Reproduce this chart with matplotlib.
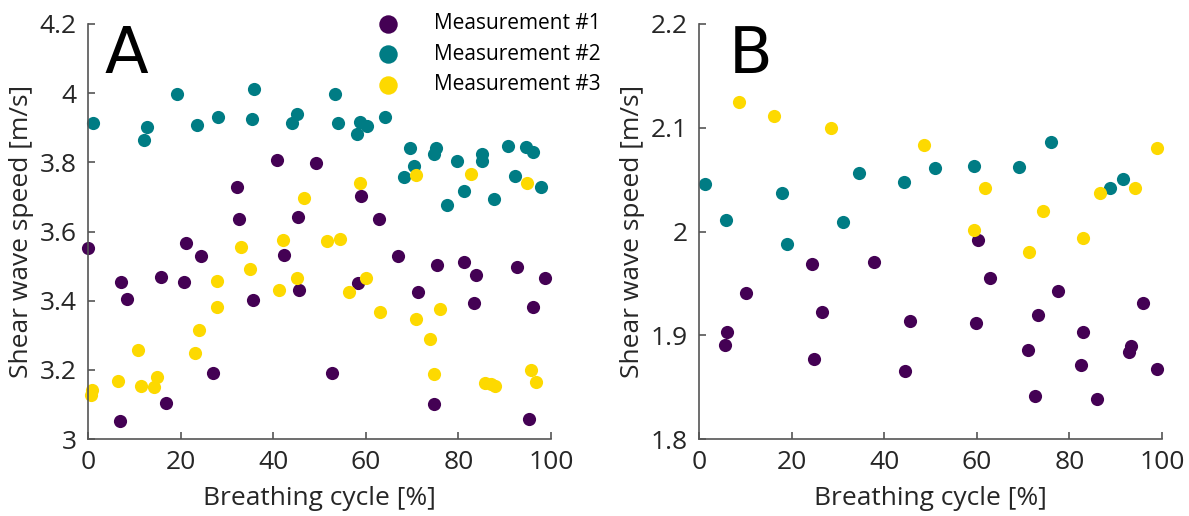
import numpy as np
import matplotlib
matplotlib.use('Agg')
import matplotlib.pyplot as plt

plt.rcParams['font.family'] = ['Open Sans', 'DejaVu Sans']

# Panel A data (breathing cycle %, shear wave speed m/s)
a1_x = [-0.1, 7.0, 7.2, 8.4, 15.8, 16.9, 20.8, 21.2, 24.4, 26.9, 32.2, 32.7, 35.7,
        40.9, 42.3, 45.4, 45.6, 49.3, 52.6, 58.4, 58.9, 62.9, 67.0, 71.2, 74.7,
        75.4, 81.3, 83.3, 83.9, 92.7, 95.2, 96.2, 98.8]
a1_y = [3.553, 3.053, 3.453, 3.404, 3.469, 3.105, 3.455, 3.566, 3.530, 3.190, 3.729,
        3.636, 3.401, 3.808, 3.533, 3.641, 3.430, 3.797, 3.192, 3.452, 3.704, 3.636,
        3.530, 3.425, 3.102, 3.502, 3.512, 3.392, 3.475, 3.497, 3.058, 3.381, 3.467]

a2_x = [1.1, 12.2, 12.8, 19.2, 23.5, 28.0, 35.4, 35.9, 44.1, 45.1, 53.3, 53.9, 58.2,
        58.7, 60.3, 64.2, 68.3, 69.6, 70.4, 74.7, 75.2, 77.6, 79.7, 81.3, 85.1, 85.1,
        87.6, 90.7, 92.2, 94.7, 96.1, 97.8]
a2_y = [3.914, 3.864, 3.903, 3.997, 3.907, 3.930, 3.925, 4.011, 3.913, 3.939, 3.997,
        3.913, 3.882, 3.916, 3.906, 3.931, 3.758, 3.842, 3.789, 3.824, 3.842, 3.676,
        3.803, 3.718, 3.824, 3.803, 3.693, 3.848, 3.761, 3.844, 3.831, 3.728]

a3_x = [0.8, 0.6, 6.5, 10.9, 11.5, 14.8, 14.3, 23.2, 24.0, 27.9, 27.9, 33.0, 35.0,
        41.2, 42.2, 45.1, 46.6, 51.7, 54.4, 56.3, 58.7, 60.0, 63.1, 70.8, 70.8, 73.9,
        74.7, 76.1, 82.7, 85.8, 87.0, 88.0, 94.8, 95.7, 96.8]
a3_y = [3.142, 3.128, 3.167, 3.257, 3.154, 3.178, 3.150, 3.249, 3.315, 3.382, 3.457,
        3.554, 3.492, 3.432, 3.575, 3.466, 3.698, 3.572, 3.578, 3.426, 3.741, 3.467,
        3.366, 3.348, 3.763, 3.288, 3.189, 3.376, 3.766, 3.162, 3.158, 3.154, 3.739,
        3.200, 3.164]

# Panel B data
b1_x = [5.6, 6.0, 10.2, 24.4, 26.5, 24.9, 37.8, 45.5, 44.4, 60.2, 62.9, 59.9, 77.5,
        73.2, 71.1, 72.6, 82.9, 82.4, 93.4, 92.9, 96.0, 99.0, 85.9]
b1_y = [1.891, 1.903, 1.941, 1.969, 1.922, 1.877, 1.971, 1.914, 1.866, 1.992, 1.955,
        1.912, 1.943, 1.920, 1.886, 1.841, 1.903, 1.871, 1.890, 1.884, 1.931, 1.867,
        1.839]

b2_x = [1.2, 5.8, 17.9, 18.9, 31.0, 34.6, 44.3, 51.0, 59.4, 69.2, 76.1, 88.8, 91.6]
b2_y = [2.046, 2.011, 2.037, 1.988, 2.009, 2.056, 2.048, 2.061, 2.063, 2.062, 2.086,
        2.042, 2.051]

b3_x = [8.6, 16.2, 28.5, 48.5, 61.7, 59.4, 74.2, 71.2, 83.0, 86.6, 94.1, 99.0]
b3_y = [2.125, 2.111, 2.100, 2.083, 2.042, 2.001, 2.020, 1.980, 1.994, 2.037, 2.042,
        2.080]

labels = ['Measurement #1', 'Measurement #2', 'Measurement #3']
colors = ['#440154', '#007c84', '#fdd900']

x_ticks = [0, 20, 40, 60, 80, 100]
a_ticks = [3, 3.2, 3.4, 3.6, 3.8, 4, 4.2]
a_tick_labels = ['3', '3.2', '3.4', '3.6', '3.8', '4', '4.2']
b_ticks = [1.8, 1.9, 2, 2.1, 2.2]
b_tick_labels = ['1.8', '1.9', '2', '2.1', '2.2']

fig = plt.figure(figsize=(11.89, 5.16), dpi=100)
axA = fig.add_axes([0.074, 0.1492, 0.3894, 0.8043])
axB = fig.add_axes([0.5879, 0.1492, 0.3894, 0.8043])

txt = '#262626'
for ax in (axA, axB):
    ax.spines['top'].set_visible(False)
    ax.spines['right'].set_visible(False)
    for s in ('left', 'bottom'):
        ax.spines[s].set_color('#555555')
        ax.spines[s].set_linewidth(1.2)
    ax.tick_params(direction='in', length=5, width=1.2, color='#555555',
                   labelsize=19, labelcolor=txt, pad=8)
    ax.set_xlim(0, 100)
    ax.set_xticks(x_ticks)
    ax.set_xlabel('Breathing cycle [%]', fontsize=19, color=txt, labelpad=8)
    ax.set_ylabel('Shear wave speed [m/s]', fontsize=19, color=txt)

ms = 90
series_a = [(a1_x, a1_y), (a2_x, a2_y), (a3_x, a3_y)]
for (x, y), c, lab in zip(series_a, colors, labels):
    axA.scatter(x, y, s=ms, color=c, label=lab, clip_on=False, linewidths=0)
series_b = [(b1_x, b1_y), (b2_x, b2_y), (b3_x, b3_y)]
for (x, y), c in zip(series_b, colors):
    axB.scatter(x, y, s=ms, color=c, clip_on=False, linewidths=0)

axA.set_ylim(3, 4.2)
axA.set_yticks(a_ticks)
axA.set_yticklabels(a_tick_labels)
axB.set_ylim(1.8, 2.2)
axB.set_yticks(b_ticks)
axB.set_yticklabels(b_tick_labels)

axA.text(0.035, 1.0, 'A', transform=axA.transAxes, fontsize=46, va='top', ha='left',
         family='DejaVu Sans')
axB.text(0.065, 1.0, 'B', transform=axB.transAxes, fontsize=46, va='top', ha='left',
         family='DejaVu Sans')

axA.legend(loc='upper left', bbox_to_anchor=(0.302, 0.99), bbox_transform=fig.transFigure,
           frameon=False, fontsize=15, markerscale=1.4, handletextpad=1.2,
           labelspacing=0.45, borderaxespad=0)

fig.savefig('out.png', dpi=100)
